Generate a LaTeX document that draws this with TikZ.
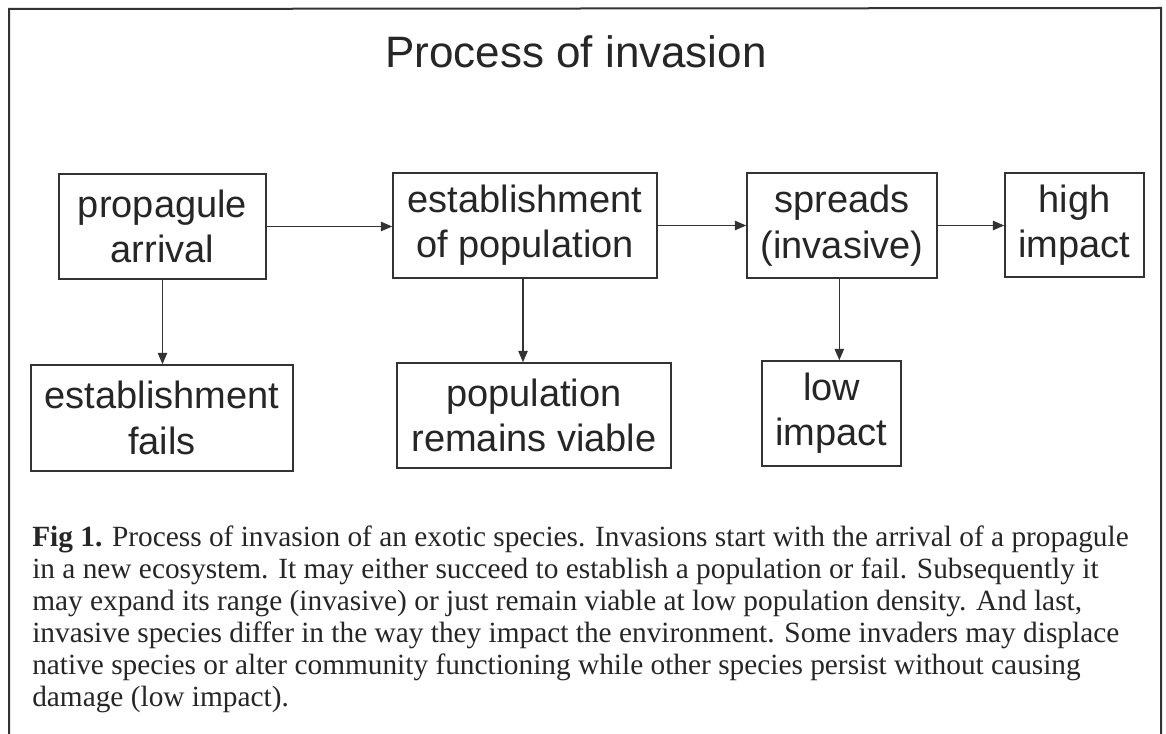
\documentclass[tikz,border=0pt]{standalone}
\usepackage{fontspec}
\setmainfont{Liberation Serif}
\setsansfont{Liberation Sans}
\usetikzlibrary{arrows.meta}
\definecolor{linec}{HTML}{333333}
\definecolor{textc}{HTML}{262626}
\begin{document}
\begin{tikzpicture}[x=0.75pt,y=-0.75pt,
  box/.style={draw=linec, line width=1.1pt, rectangle, align=center,
    font=\sffamily\fontsize{28.5}{34}\selectfont, text=textc, inner sep=0pt},
  arr/.style={draw=linec, line width=1pt, -{Triangle[length=8.5pt,width=7pt]}},
  frame/.style={draw=linec, line width=1.5pt},
]
\useasboundingbox[fill=white] (0,0) rectangle (1166,734);
\draw[frame] (9,734) -- (9,9) -- (1161,8) -- (1161,734);

\node[anchor=base, font=\sffamily\fontsize{33}{40}\selectfont, text=textc] (title) at (576,68) {Process of invasion};

\node[box, minimum width=155.25pt, minimum height=78.75pt] (pa) at (162.5,226.5) {propagule\\arrival};
\node[box, minimum width=196.5pt, minimum height=79.5pt] (ef) at (162,418) {establishment\\fails};
\node[box, minimum width=198pt, minimum height=78.75pt] (eop) at (525,225.5) {establishment\\of population};
\node[box, minimum width=205.5pt, minimum height=78.75pt] (prv) at (534,415.5) {population\\remains viable};
\node[box, minimum width=142.5pt, minimum height=78.75pt] (sp) at (842,225.5) {spreads\\(invasive)};
\node[box, minimum width=104.25pt, minimum height=78pt] (hi) at (1074.5,225) {high\\impact};
\node[box, minimum width=104.25pt, minimum height=78.75pt] (li) at (831.5,413.5) {low\\impact};

\draw[arr] (pa.east) -- (pa.east -| eop.west);
\draw[arr] (eop.east) -- (eop.east -| sp.west);
\draw[arr] (sp.east) -- (sp.east -| hi.west);
\draw[arr] (pa.south) -- (pa.south |- ef.north);
\draw[arr] ([xshift=-1.5pt]eop.south) -- ([xshift=-1.5pt]eop.south |- prv.north);
\draw[arr] ([xshift=-2pt]sp.south) -- ([xshift=-2pt]sp.south |- li.north);

\node[anchor=north west, align=left, inner sep=0pt, text=textc,
  font=\rmfamily\fontsize{22}{24}\selectfont] (cap) at (32,526)
{\textbf{Fig 1.} Process of invasion of an exotic species. Invasions start with the arrival of a propagule\\
in a new ecosystem. It may either succeed to establish a population or fail. Subsequently it\\
may expand its range (invasive) or just remain viable at low population density. And last,\\
invasive species differ in the way they impact the environment. Some invaders may displace\\
native species or alter community functioning while other species persist without causing\\
damage (low impact).};
\end{tikzpicture}
\end{document}
